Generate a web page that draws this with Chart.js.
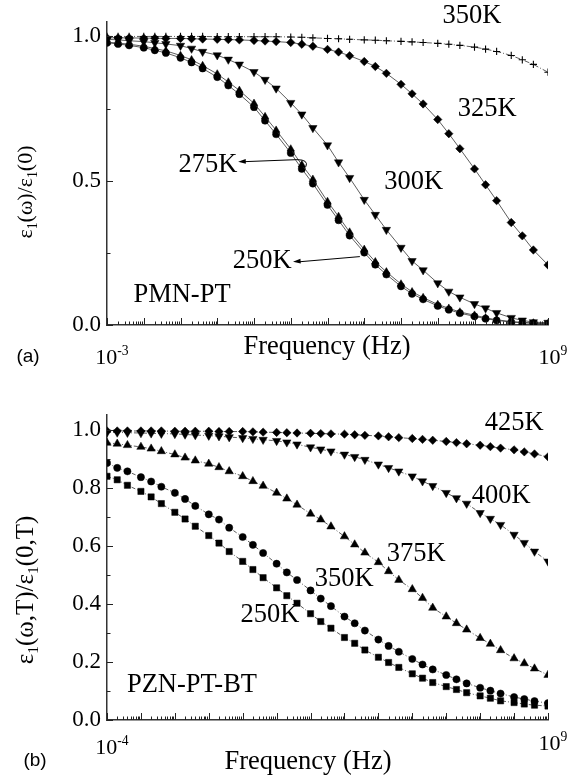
<!DOCTYPE html>
<html>
<head>
<meta charset="utf-8">
<script src="https://cdn.jsdelivr.net/npm/chart.js@4.4.1/dist/chart.umd.min.js"></script>
<style>
  body { margin: 0; background: #fff; }
  canvas { display: block; }
</style>
</head>
<body>
<canvas id="chartA" width="577" height="388"></canvas>
<canvas id="chartB" width="577" height="388"></canvas>
<script>
// (a) PMN-PT : frequency points (Hz) and normalised eps1
const freqA = [1e-3, 2e-3, 4e-3, 1e-2, 2e-2, 4e-2, 0.1, 0.2, 0.4, 1, 2, 4, 10, 20, 40,
  100, 200, 400, 1e3, 2e3, 4e3, 1e4, 2e4, 4e4, 1e5, 2e5, 4e5, 1e6, 2e6, 4e6,
  1e7, 2e7, 4e7, 1e8, 2e8, 4e8, 1e9];
const pmn350 = [1.000, 1.000, 1.000, 1.000, 1.000, 1.000, 1.000, 1.000, 1.000, 0.999, 0.999, 0.999,
  0.999, 0.999, 0.999, 0.998, 0.997, 0.995, 0.993, 0.992, 0.990, 0.988, 0.987, 0.985,
  0.983, 0.981, 0.979, 0.976, 0.973, 0.969, 0.963, 0.956, 0.948, 0.934, 0.919, 0.903, 0.876];
const pmn325 = [0.995, 0.995, 0.995, 0.994, 0.994, 0.993, 0.993, 0.992, 0.991, 0.990, 0.989, 0.988,
  0.986, 0.984, 0.982, 0.979, 0.973, 0.966, 0.955, 0.946, 0.933, 0.913, 0.896, 0.872,
  0.834, 0.801, 0.766, 0.712, 0.663, 0.611, 0.541, 0.486, 0.431, 0.355, 0.309, 0.260, 0.208];
const pmn300 = [0.990, 0.988, 0.985, 0.982, 0.978, 0.974, 0.968, 0.958, 0.947, 0.935, 0.920, 0.903,
  0.877, 0.850, 0.820, 0.770, 0.730, 0.683, 0.623, 0.564, 0.510, 0.434, 0.382, 0.330,
  0.268, 0.222, 0.190, 0.145, 0.116, 0.096, 0.073, 0.058, 0.042, 0.025, 0.016, 0.010, 0.008];
const pmn275 = [0.980, 0.977, 0.973, 0.966, 0.958, 0.950, 0.934, 0.919, 0.899, 0.870, 0.842, 0.813,
  0.768, 0.722, 0.675, 0.610, 0.555, 0.505, 0.428, 0.376, 0.322, 0.262, 0.219, 0.184,
  0.142, 0.115, 0.095, 0.071, 0.058, 0.045, 0.034, 0.025, 0.018, 0.012, 0.009, 0.007, 0.005];
const pmn250 = [0.978, 0.974, 0.969, 0.961, 0.952, 0.943, 0.926, 0.910, 0.889, 0.859, 0.830, 0.800,
  0.755, 0.708, 0.661, 0.596, 0.541, 0.490, 0.416, 0.363, 0.310, 0.251, 0.209, 0.175,
  0.134, 0.108, 0.089, 0.066, 0.053, 0.041, 0.030, 0.022, 0.016, 0.010, 0.008, 0.006, 0.004];

// (b) PZN-PT-BT
const freqB = [1e-4, 2e-4, 4e-4, 1e-3, 2e-3, 4e-3, 1e-2, 2e-2, 4e-2, 0.1, 0.2, 0.4, 1, 2, 4,
  10, 20, 40, 100, 200, 400, 1e3, 2e3, 4e3, 1e4, 2e4, 4e4, 1e5, 2e5, 4e5,
  1e6, 2e6, 4e6, 1e7, 2e7, 4e7, 1e8, 2e8, 4e8, 1e9];
const pzn425 = [0.995, 0.995, 0.995, 0.995, 0.995, 0.995, 0.994, 0.994, 0.994, 0.994, 0.993, 0.993,
  0.993, 0.992, 0.991, 0.990, 0.989, 0.988, 0.987, 0.986, 0.985, 0.984, 0.982, 0.980,
  0.978, 0.975, 0.972, 0.969, 0.966, 0.963, 0.959, 0.955, 0.951, 0.946, 0.941, 0.936,
  0.930, 0.923, 0.916, 0.906];
const pzn400 = [0.990, 0.990, 0.989, 0.988, 0.987, 0.986, 0.985, 0.983, 0.981, 0.979, 0.977, 0.974,
  0.971, 0.968, 0.965, 0.961, 0.956, 0.949, 0.939, 0.932, 0.925, 0.914, 0.906, 0.896,
  0.880, 0.868, 0.856, 0.839, 0.822, 0.806, 0.782, 0.764, 0.745, 0.713, 0.693, 0.672,
  0.638, 0.610, 0.580, 0.546];
const pzn375 = [0.954, 0.951, 0.946, 0.940, 0.934, 0.925, 0.914, 0.903, 0.893, 0.882, 0.870, 0.856,
  0.839, 0.822, 0.806, 0.782, 0.762, 0.741, 0.710, 0.690, 0.666, 0.632, 0.604, 0.576,
  0.543, 0.512, 0.482, 0.450, 0.420, 0.386, 0.356, 0.333, 0.311, 0.282, 0.262, 0.240,
  0.212, 0.195, 0.177, 0.155];
const pzn350 = [0.885, 0.868, 0.856, 0.836, 0.821, 0.803, 0.782, 0.761, 0.737, 0.708, 0.690, 0.662,
  0.630, 0.603, 0.575, 0.538, 0.508, 0.482, 0.446, 0.418, 0.392, 0.356, 0.333, 0.308,
  0.277, 0.255, 0.235, 0.210, 0.191, 0.174, 0.155, 0.140, 0.126, 0.111, 0.101, 0.091,
  0.079, 0.072, 0.065, 0.058];
const pzn250 = [0.839, 0.827, 0.808, 0.787, 0.768, 0.745, 0.715, 0.692, 0.667, 0.635, 0.609, 0.580,
  0.546, 0.518, 0.490, 0.455, 0.428, 0.402, 0.366, 0.339, 0.316, 0.284, 0.264, 0.241,
  0.216, 0.198, 0.181, 0.159, 0.144, 0.129, 0.115, 0.105, 0.094, 0.083, 0.075, 0.066,
  0.060, 0.055, 0.051, 0.048];

const SERIF = '"Liberation Serif", "Times New Roman", serif';
const SANS = '"Liberation Sans", Arial, sans-serif';

function pts(freq, vals) {
  return freq.map((f, i) => ({ x: f, y: vals[i] }));
}

function series(label, freq, vals, style, extra) {
  return Object.assign({
    label: label,
    data: pts(freq, vals),
    borderColor: '#333',
    borderWidth: 0.8,
    pointStyle: style,
    pointRadius: 3.6,
    pointBackgroundColor: '#000',
    pointBorderColor: '#000',
    pointBorderWidth: 0.5,
  }, extra || {});
}

// text with sub (1) / superscript (2) parts, centred on x,y
function drawRich(ctx, parts, x, y, size, family) {
  const fontOf = m => (m ? size * 0.62 : size) + 'px ' + family;
  let total = 0;
  parts.forEach(([t, m]) => { ctx.font = fontOf(m); total += ctx.measureText(t).width; });
  let cx = x - total / 2;
  const base = y + size * 0.33;
  ctx.textAlign = 'left';
  ctx.textBaseline = 'alphabetic';
  parts.forEach(([t, m]) => {
    ctx.font = fontOf(m);
    const dy = m === 1 ? size * 0.2 : m === 2 ? -size * 0.42 : 0;
    ctx.fillText(t, cx, base + dy);
    cx += ctx.measureText(t).width;
  });
}

function panelDecor(cfg) {
  return {
    id: 'panelDecor',
    afterDraw(chart) {
      const { ctx, chartArea: a, scales: { x, y } } = chart;
      ctx.save();
      // inward ticks
      ctx.strokeStyle = '#222';
      ctx.lineWidth = 1;
      ctx.beginPath();
      const d0 = Math.round(Math.log10(x.min)), d1 = Math.round(Math.log10(x.max));
      for (let d = d0; d <= d1; d++) {
        for (let m = 1; m <= 9; m++) {
          if (d === d1 && m > 1) break;
          const px = Math.round(x.getPixelForValue(m * Math.pow(10, d))) + 0.5;
          const len = m === 1 ? 7 : 3.5;
          ctx.moveTo(px, a.bottom);
          ctx.lineTo(px, a.bottom - len);
        }
      }
      const n = Math.round(cfg.yTop / cfg.yMinor);
      for (let i = 0; i <= n; i++) {
        const py = Math.round(y.getPixelForValue(i * cfg.yMinor)) + 0.5;
        ctx.moveTo(a.left, py);
        ctx.lineTo(a.left + (i % 2 === 0 ? 6 : 3.5), py);
      }
      ctx.stroke();

      ctx.fillStyle = '#000';
      // end labels of the frequency axis
      cfg.xEnds.forEach(e => drawRich(ctx, e.parts, e.px, e.py, 22, SERIF));
      // axis titles
      drawRich(ctx, [['Frequency (Hz)', 0]], cfg.xTitle[0], cfg.xTitle[1], 26.5, SERIF);
      ctx.save();
      ctx.translate(cfg.yTitle[0], cfg.yTitle[1]);
      ctx.rotate(-Math.PI / 2);
      drawRich(ctx, cfg.yTitleParts, 0, 0, cfg.yTitle[2], SERIF);
      ctx.restore();
      // panel letter
      drawRich(ctx, [[cfg.letter[0], 0]], cfg.letter[1], cfg.letter[2], 19, SANS);

      // curve labels
      cfg.labels.forEach(l => {
        drawRich(ctx, [[l.text, 0]], x.getPixelForValue(l.f), y.getPixelForValue(l.v), 26.5, SERIF);
      });

      // arrows
      ctx.strokeStyle = '#000';
      ctx.lineWidth = 1;
      cfg.arrows.forEach(ar => {
        const tx = x.getPixelForValue(ar.from[0]), ty = y.getPixelForValue(ar.from[1]);
        const hx = x.getPixelForValue(ar.to[0]), hy = y.getPixelForValue(ar.to[1]);
        ctx.beginPath();
        if (ar.hook) {
          ctx.moveTo(tx + 3, ty + 7);
          ctx.quadraticCurveTo(tx + 6, ty, tx - 6, ty);
          ctx.lineTo(hx + 6, hy);
        } else {
          ctx.moveTo(tx, ty);
          ctx.lineTo(hx + 6, hy);
        }
        ctx.stroke();
        const ang = Math.atan2(hy - ty, hx - tx);
        ctx.beginPath();
        ctx.moveTo(hx, hy);
        ctx.lineTo(hx - 8 * Math.cos(ang - 0.3), hy - 8 * Math.sin(ang - 0.3));
        ctx.lineTo(hx - 8 * Math.cos(ang + 0.3), hy - 8 * Math.sin(ang + 0.3));
        ctx.closePath();
        ctx.fill();
      });
      ctx.restore();
    }
  };
}

function baseOptions(xmin, ymaxStep, padTop, xHeight) {
  return {
    responsive: false,
    animation: false,
    layout: { padding: { top: padTop, right: 29, left: 0, bottom: 0 } },
    plugins: { legend: { display: false }, tooltip: { enabled: false } },
    scales: {
      x: {
        type: 'logarithmic',
        min: xmin,
        max: 1e9,
        afterFit: s => { s.height = xHeight; },
        grid: { display: false, drawTicks: false },
        border: { display: true, color: '#333', width: 1.5 },
        ticks: { display: false }
      },
      y: {
        min: 0,
        max: 1.05,
        afterFit: s => { s.width = 107; },
        grid: { display: false, drawTicks: false },
        border: { display: true, color: '#333', width: 1.5 },
        ticks: {
          stepSize: ymaxStep,
          includeBounds: false,
          padding: 6,
          color: '#000',
          font: { family: SERIF, size: 23 },
          callback: v => Number(v).toFixed(1)
        }
      }
    }
  };
}

new Chart(document.getElementById('chartA'), {
  type: 'line',
  data: {
    datasets: [
      series('350K', freqA, pmn350, 'cross', { pointRadius: 3.6, pointBorderWidth: 1.1, borderDash: [5, 2, 1, 2] }),
      series('325K', freqA, pmn325, 'rectRot', { pointRadius: 4.2 }),
      series('300K', freqA, pmn300, 'triangle', { pointRadius: 4.8, pointRotation: 180 }),
      series('275K', freqA, pmn275, 'triangle', { pointRadius: 4.3 }),
      series('250K', freqA, pmn250, 'circle', { pointRadius: 3.6 })
    ]
  },
  options: baseOptions(1e-3, 0.5, 22, 63),
  plugins: [panelDecor({
    yTop: 1.0, yMinor: 0.25,
    xEnds: [
      { parts: [['10', 0], ['-3', 2]], px: 112, py: 357 },
      { parts: [['10', 0], ['9', 2]], px: 553, py: 357 }
    ],
    xTitle: [327, 345],
    yTitle: [25, 192, 22],
    yTitleParts: [['ε', 0], ['1', 1], ['(ω)/ε', 0], ['1', 1], ['(0)', 0]],
    letter: ['(a)', 28, 356],
    labels: [
      { text: '350K', f: 8.5e6, v: 1.076 },
      { text: '325K', f: 2.2e7, v: 0.753 },
      { text: '300K', f: 2.2e5, v: 0.503 },
      { text: '275K', f: 0.56, v: 0.559 },
      { text: '250K', f: 16.6, v: 0.229 },
      { text: 'PMN-PT', f: 0.11, v: 0.111 }
    ],
    arrows: [
      { from: [214, 0.573], to: [3.7, 0.566], hook: true },
      { from: [7600, 0.237], to: [115, 0.219] }
    ]
  })]
});

new Chart(document.getElementById('chartB'), {
  type: 'line',
  data: {
    datasets: [
      series('425K', freqB, pzn425, 'rectRot', { pointRadius: 4.2, borderDash: [4, 2, 1, 2] }),
      series('400K', freqB, pzn400, 'triangle', { pointRadius: 4.8, pointRotation: 180, borderDash: [4, 2, 1, 2] }),
      series('375K', freqB, pzn375, 'triangle', { pointRadius: 4.8, borderDash: [4, 2, 1, 2] }),
      series('350K', freqB, pzn350, 'circle', { pointRadius: 3.6, borderDash: [4, 2, 1, 2] }),
      series('250K', freqB, pzn250, 'rect', { pointRadius: 4.4, borderDash: [4, 2, 1, 2] })
    ]
  },
  options: baseOptions(1e-4, 0.2, 27, 56),
  plugins: [panelDecor({
    yTop: 1.0, yMinor: 0.1,
    xEnds: [
      { parts: [['10', 0], ['-4', 2]], px: 112, py: 359 },
      { parts: [['10', 0], ['9', 2]], px: 553, py: 355 }
    ],
    xTitle: [308, 372],
    yTitle: [25, 202, 25],
    yTitleParts: [['ε', 0], ['1', 1], ['(ω,T)/ε', 0], ['1', 1], ['(0,T)', 0]],
    letter: ['(b)', 35, 372],
    labels: [
      { text: '425K', f: 1e8, v: 1.028 },
      { text: '400K', f: 4.2e7, v: 0.776 },
      { text: '375K', f: 1.3e5, v: 0.576 },
      { text: '350K', f: 980, v: 0.493 },
      { text: '250K', f: 6.4, v: 0.369 },
      { text: 'PZN-PT-BT', f: 0.032, v: 0.128 }
    ],
    arrows: []
  })]
});
</script>
</body>
</html>
